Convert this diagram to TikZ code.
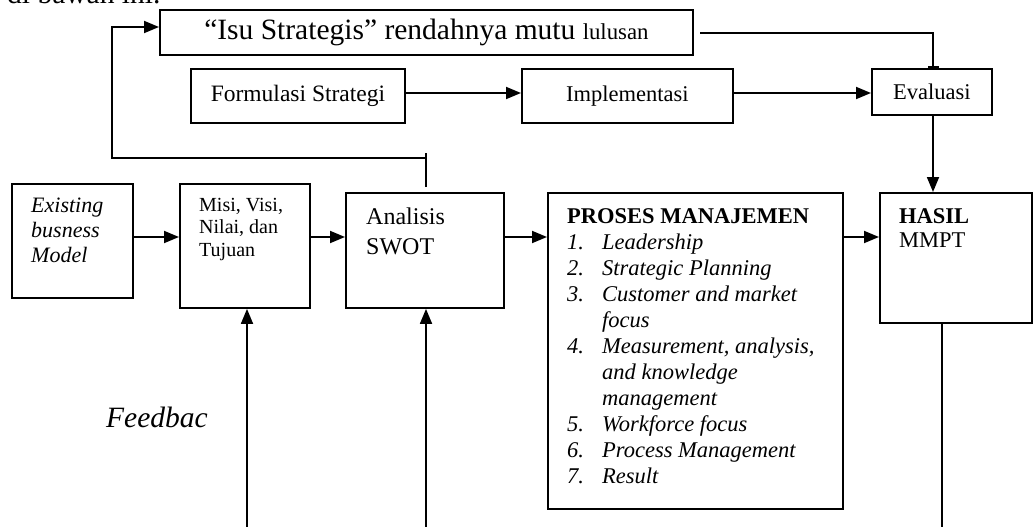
\documentclass[tikz,border=0pt]{standalone}
\usepackage{fontspec}
\setmainfont{Liberation Serif}
\usetikzlibrary{arrows.meta}
\tikzset{
  box/.style={draw, line width=1.9pt, inner sep=0pt, anchor=north west},
  ln/.style={line width=1.8pt},
  arr/.style={line width=1.8pt, -{Triangle[length=15pt,width=12pt]}},
  tee/.style={line width=1.8pt, -{Bar[width=11pt,line width=2.4pt]}},
  txt/.style={inner sep=0pt, anchor=north west, align=left},
}
\begin{document}
\begin{tikzpicture}[x=1pt,y=-1pt]
\useasboundingbox (0,0) rectangle (1033,527);
\begin{scope}
\clip (0,0) rectangle (1033,527);
\node[inner sep=0pt, anchor=base west, font=\fontsize{29.5}{32}\selectfont] (intro) at (7,4) {di bawah ini.};
\end{scope}
% boxes
\node[box, minimum width=533pt, minimum height=45pt, font=\fontsize{29.5}{32}\selectfont] (isu) at (159,9)
  {``Isu Strategis'' rendahnya mutu {\fontsize{22.8}{26}\selectfont lulusan}};
\node[box, minimum width=214pt, minimum height=54pt, font=\fontsize{23.5}{26}\selectfont] (form) at (190,68) {Formulasi Strategi};
\node[box, minimum width=211pt, minimum height=54pt, font=\fontsize{22.5}{26}\selectfont] (impl) at (521,68) {Implementasi};
\node[box, minimum width=120pt, minimum height=46pt, font=\fontsize{22.5}{26}\selectfont] (eval) at (871,68) {Evaluasi};
\node[box, minimum width=121pt, minimum height=114pt] (ex) at (11,183) {};
\node[box, minimum width=130pt, minimum height=124pt] (misi) at (179,183) {};
\node[box, minimum width=158pt, minimum height=115pt] (swot) at (345,192) {};
\node[box, minimum width=295pt, minimum height=316pt] (proses) at (547,192) {};
\node[box, minimum width=152pt, minimum height=130pt] (hasil) at (879,192) {};
% texts
\node[txt, font=\fontsize{22}{25}\selectfont\itshape] (extxt) at (31,198) {Existing\\busness\\Model};
\node[txt, font=\fontsize{20}{22.5}\selectfont] (misitxt) at (199,198) {Misi, Visi,\\Nilai, dan\\Tujuan};
\node[txt, font=\fontsize{24}{30}\selectfont] (swottxt) at (366,208) {Analisis\\SWOT};
\node[txt, font=\fontsize{22.5}{26}\selectfont] (prostxt) at (567,208) {\textbf{PROSES MANAJEMEN}\\
  \makebox[35pt][l]{\textit{1.}}\textit{Leadership}\\
  \makebox[35pt][l]{\textit{2.}}\textit{Strategic Planning}\\
  \makebox[35pt][l]{\textit{3.}}\textit{Customer and market}\\
  \hspace*{35pt}\textit{focus}\\
  \makebox[35pt][l]{\textit{4.}}\textit{Measurement, analysis,}\\
  \hspace*{35pt}\textit{and knowledge}\\
  \hspace*{35pt}\textit{management}\\
  \makebox[35pt][l]{\textit{5.}}\textit{Workforce focus}\\
  \makebox[35pt][l]{\textit{6.}}\textit{Process Management}\\
  \makebox[35pt][l]{\textit{7.}}\textit{Result}};
\node[txt, font=\fontsize{22.5}{24.5}\selectfont] (hasiltxt) at (899,208) {\textbf{HASIL}\\MMPT};
\node[inner sep=0pt, anchor=base west, font=\fontsize{29.5}{32}\selectfont\itshape] (fb) at (106,427) {Feedbac};
% helper coordinates
\coordinate (row) at (0,237);
\coordinate (row2) at (0,93);
\coordinate (f1) at (247,527);
\coordinate (f2) at (426,527);
\coordinate (hb) at (942,527);
\coordinate (t1) at (426,187);
\coordinate (t2) at (426,153);
\coordinate (fbk) at (426,158);
\coordinate (fbl) at (112,158);
\coordinate (ex1) at (933,33);
\coordinate (isuout) at (700,33);
\coordinate (isuin) at (0,27);
% connectors
\draw[arr] (ex.east|-row) -- (misi.west|-row);
\draw[arr] (misi.east|-row) -- (swot.west|-row);
\draw[arr] (swot.east|-row) -- (proses.west|-row);
\draw[arr] (proses.east|-row) -- (hasil.west|-row);
\draw[arr] (form.east|-row2) -- (impl.west|-row2);
\draw[arr] (impl.east|-row2) -- (eval.west|-row2);
\draw[tee] (isuout) -- (ex1) -- (ex1|-eval.north);
\draw[arr] (ex1|-eval.south) -- (ex1|-hasil.north);
\draw[ln] (hb|-hasil.south) -- (hb);
\draw[arr] (f1) -- (f1|-misi.south);
\draw[arr] (f2) -- (f2|-swot.south);
\draw[ln] (t1) -- (t2);
\draw[arr] (fbk) -- (fbl) |- (isu.west|-isuin);
\end{tikzpicture}
\end{document}
